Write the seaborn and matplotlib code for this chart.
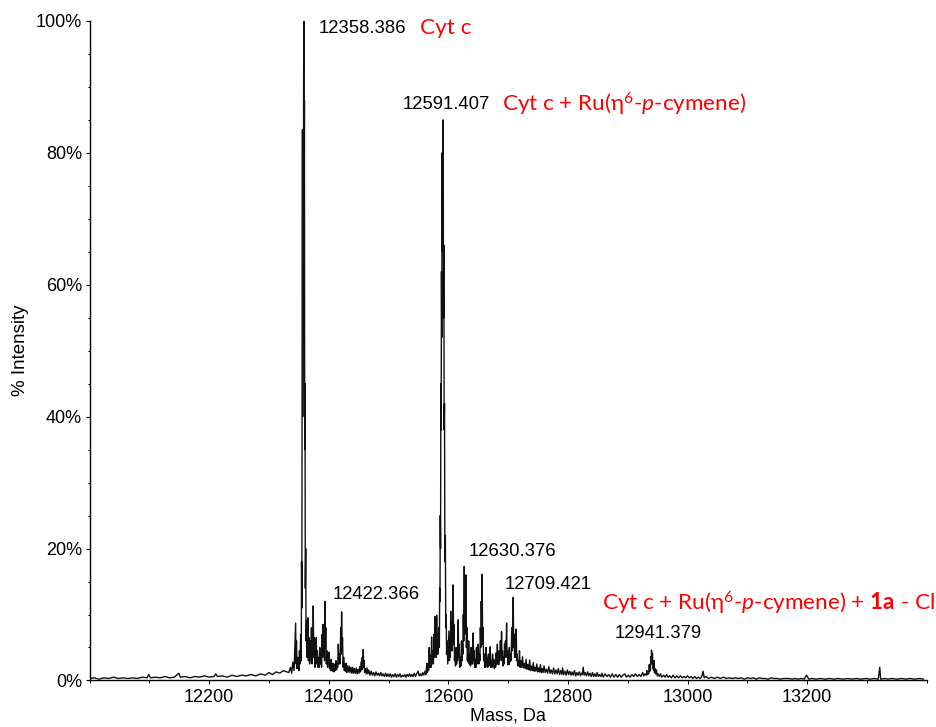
import matplotlib
matplotlib.use("Agg")
import matplotlib.pyplot as plt
import seaborn as sns
import pandas as pd
from matplotlib.ticker import MultipleLocator, FixedLocator, FixedFormatter

# ---------------- data (mass in Da, intensity in %) ----------------
baseline_left = [
    (12000, 0.3), (12008, 0.4), (12016, 0.2), (12024, 0.4), (12032, 0.3), (12040, 0.5),
    (12048, 0.3), (12056, 0.4), (12064, 0.3), (12072, 0.4), (12080, 0.3), (12088, 0.5),
    (12096, 0.4), (12099, 0.9), (12102, 0.4), (12110, 0.5), (12118, 0.4), (12126, 0.6),
    (12134, 0.4), (12142, 0.5), (12149, 1.1), (12152, 0.5), (12160, 0.6), (12168, 0.4),
    (12176, 0.6), (12184, 0.5), (12192, 0.7), (12200, 0.5), (12208, 0.6), (12211, 1.0),
    (12214, 0.6), (12222, 0.7), (12230, 0.5), (12238, 0.8), (12246, 0.6), (12254, 0.8),
    (12262, 0.7), (12270, 0.9), (12278, 0.7), (12286, 1.0), (12294, 0.8), (12300, 1.2),
    (12306, 0.9), (12312, 1.3), (12318, 1.1), (12324, 1.5), (12330, 1.3),
]

cyt_c_cluster = [
    (12333, 1.2), (12336, 2.0), (12338, 1.1), (12340, 2.8), (12342, 1.5), (12343.5, 5.5),
    (12344.6, 8.7), (12345.3, 2.5), (12346, 6.0), (12347, 1.8), (12348.5, 3.5), (12350, 1.5),
    (12351, 4.5), (12352, 2.5), (12353, 7.0), (12354, 3.0), (12354.5, 18.0), (12355, 11.0),
    (12355.5, 45.0), (12356, 83.5), (12356.5, 40.0), (12357, 70.0), (12357.5, 55.0),
    (12358, 92.0), (12358.4, 100.0), (12358.8, 60.0), (12359.3, 88.0), (12359.8, 35.0),
    (12360.3, 45.0), (12360.8, 14.0), (12361.5, 20.0), (12362, 6.0), (12363, 9.0),
    (12363.8, 3.5), (12365, 9.5), (12366, 3.0), (12367, 6.5), (12368, 2.5), (12369, 6.0),
    (12370, 3.0), (12371, 8.0), (12372, 2.5), (12372.8, 6.0), (12373.5, 4.0), (12374, 11.3),
    (12375, 3.5), (12375.8, 6.5), (12377, 2.0), (12378, 4.5), (12379, 6.5), (12380, 2.5),
    (12381, 4.5), (12382, 2.0), (12383, 3.5), (12384, 2.0), (12385, 5.0), (12386, 2.5),
    (12387, 4.0), (12388, 2.0), (12389, 7.0), (12389.8, 3.5), (12390.5, 8.5), (12391.3, 4.0),
    (12392, 6.5), (12393, 3.0), (12393.6, 12.0), (12394.3, 5.0), (12395, 8.0), (12396, 2.5),
    (12397, 4.5), (12398, 2.0), (12399, 3.0), (12400.5, 4.3), (12401.3, 1.8), (12402, 3.0),
    (12403, 1.5), (12404, 3.2), (12405, 1.5), (12406, 2.6), (12407, 1.4), (12408, 2.6),
    (12409, 1.3), (12410, 2.4), (12411, 1.5), (12412, 3.0), (12413, 1.6), (12414, 2.5),
    (12415, 2.0), (12416, 5.5), (12417, 2.5), (12418, 4.0), (12419, 2.5), (12420, 8.0),
    (12420.8, 4.0), (12421.5, 10.4), (12422.3, 4.5), (12423, 6.5), (12424, 2.0), (12425, 3.5),
    (12426, 1.5), (12427, 2.5), (12428, 1.4), (12429, 2.6), (12430, 1.2), (12431, 2.2),
    (12432.5, 1.3), (12434, 2.2), (12435.5, 1.2), (12437, 2.0), (12438.5, 1.1), (12440, 2.0),
    (12441.5, 1.1), (12443, 1.8), (12444.5, 1.1), (12446, 1.9), (12447.5, 1.0), (12449, 1.7),
    (12450.5, 1.1), (12452, 2.1), (12453, 1.3), (12454.5, 2.8), (12455.3, 1.6), (12456, 3.5),
    (12457, 2.0), (12457.7, 4.7), (12458.5, 2.0), (12459, 3.0), (12460, 1.2), (12461, 1.8),
    (12462.5, 1.0), (12464, 1.9), (12465.5, 1.0), (12467, 1.6),
]

baseline_mid = [
    (12469, 0.8), (12471, 1.4), (12473, 0.8), (12475, 1.2), (12477, 0.7), (12479, 1.3),
    (12481, 0.8), (12483, 1.1), (12485, 0.7), (12487, 1.2), (12489, 0.7), (12491, 1.0),
    (12493, 0.6), (12495, 1.1), (12497, 0.6), (12499, 1.0), (12501, 0.6), (12503, 1.0),
    (12505, 0.5), (12507, 0.9), (12509, 0.6), (12511, 1.0), (12513, 0.5), (12515, 0.9),
    (12517, 0.6), (12519, 1.0), (12521, 0.5), (12523, 0.8), (12525, 0.6), (12527, 0.9),
    (12529, 0.5), (12531, 0.9), (12533, 0.6), (12535, 1.0), (12537, 0.6), (12539, 0.9),
    (12541, 0.6), (12543, 1.1), (12545, 0.6), (12547, 1.0), (12549.6, 1.4), (12551, 0.7),
    (12553, 1.0), (12555, 0.7), (12557, 1.2), (12559, 0.8), (12561, 1.4), (12562.5, 0.9),
]

ru_cluster = [
    (12564, 2.6), (12565, 1.2), (12566, 2.5), (12567, 1.5), (12568, 5.0), (12569, 2.0),
    (12570, 3.8), (12571, 2.0), (12572, 6.6), (12573, 2.5), (12574, 4.5), (12575, 2.5),
    (12576, 7.0), (12576.8, 3.5), (12577.5, 9.7), (12578.3, 4.0), (12579, 6.5), (12579.8, 3.5),
    (12580.5, 9.9), (12581.3, 4.0), (12582, 7.0), (12583, 4.0), (12584, 8.0), (12585, 5.0),
    (12585.5, 14.0), (12586, 12.0), (12586.5, 25.0), (12587, 20.0), (12587.5, 45.0),
    (12588, 38.0), (12588.5, 62.0), (12589, 52.0), (12589.5, 80.0), (12590, 65.0),
    (12590.6, 78.0), (12591.4, 85.0), (12591.9, 55.0), (12592.5, 66.0), (12593, 38.0),
    (12593.6, 42.0), (12594.2, 18.0), (12595, 22.0), (12595.7, 8.0), (12596.5, 10.0),
    (12597, 4.0), (12598, 6.0), (12599, 2.5), (12600, 5.0), (12601, 7.5), (12601.8, 3.0),
    (12602.5, 5.0), (12603.3, 3.5), (12604, 10.5), (12604.8, 4.5), (12605.5, 7.0),
    (12606.3, 4.5), (12607, 9.0), (12607.5, 6.0), (12608, 14.5), (12608.8, 5.5),
    (12609.5, 8.5), (12610.3, 3.0), (12611, 4.5), (12612, 2.2), (12613, 5.0), (12613.8, 2.5),
    (12614.5, 4.5), (12615.5, 3.0), (12616.5, 9.2), (12617.3, 3.5), (12618, 5.5), (12619, 2.0),
    (12620, 3.5), (12621, 2.2), (12622, 6.0), (12622.8, 3.0), (12623.5, 5.5), (12624.3, 4.0),
    (12625, 10.0), (12625.8, 6.0), (12626.6, 17.3), (12627.3, 7.0), (12628, 11.0),
    (12628.7, 8.0), (12629.4, 16.0), (12630.2, 5.0), (12631, 8.0), (12631.8, 3.0),
    (12632.5, 4.5), (12633.3, 2.8), (12634, 6.0), (12635, 2.5), (12636, 4.0), (12637, 2.2),
    (12638, 5.0), (12638.8, 2.5), (12639.5, 3.5), (12640.5, 2.5), (12641.5, 7.2),
    (12642.3, 3.0), (12643, 4.5), (12644, 2.0), (12645, 3.2), (12646, 2.0), (12647, 5.0),
    (12647.8, 2.5), (12648.5, 4.0), (12649.3, 2.6), (12650, 5.5), (12651, 2.5), (12652, 4.0),
    (12652.8, 3.0), (12653.5, 8.0), (12654.3, 5.0), (12655, 12.0), (12655.8, 7.0),
    (12656.6, 16.1), (12657.3, 5.5), (12658, 8.0), (12659, 3.0), (12660, 4.0), (12660.8, 2.0),
    (12661.5, 3.0), (12662.3, 2.0), (12663, 5.0), (12664, 2.2), (12665, 3.5), (12666, 2.0),
    (12667, 4.0), (12667.8, 2.2), (12668.5, 3.2), (12669.3, 2.5), (12670, 5.1), (12671, 2.0),
    (12672, 3.0), (12673, 2.0), (12674, 4.0), (12675, 2.2), (12676, 3.2), (12677, 1.8),
    (12678, 2.8), (12679, 2.0), (12680, 4.2), (12681, 2.4), (12682, 5.5), (12682.8, 2.6),
    (12683.5, 3.5), (12684.3, 2.4), (12685, 4.5), (12686, 3.0), (12687, 6.0), (12688, 3.5),
    (12689, 7.4), (12689.8, 3.0), (12690.5, 4.5), (12691.3, 2.2), (12692, 3.5), (12693, 2.5),
    (12694, 5.5), (12694.8, 3.5), (12695.5, 6.0), (12696.5, 4.0), (12697.4, 8.7),
    (12698.2, 3.5), (12699, 4.5), (12699.8, 2.4), (12700.5, 3.2), (12701.3, 2.4), (12702, 5.0),
    (12703, 2.8), (12704, 4.0), (12705, 3.0), (12706, 8.0), (12707, 4.5), (12707.8, 9.0),
    (12708.5, 12.6), (12709.3, 5.0), (12710, 7.0), (12710.8, 3.5), (12711.5, 4.5),
    (12712.5, 3.5), (12713.5, 7.8), (12714.3, 3.0), (12715, 4.0), (12716, 2.2), (12717, 3.0),
    (12718, 2.2), (12719, 4.5), (12720, 2.0), (12721, 3.0),
]

tail_right = [
    (12722.5, 2.0), (12724, 3.6), (12725.5, 1.9), (12727, 2.6), (12728.5, 1.8), (12730, 3.2),
    (12731.5, 1.7), (12733, 2.4), (12734.5, 1.6), (12736, 3.1), (12737.5, 1.5), (12739, 2.2),
    (12740.5, 1.5), (12742, 2.7), (12743.5, 1.4), (12745, 2.0), (12746.5, 1.4), (12748, 2.5),
    (12749.5, 1.3), (12751, 1.9), (12752.5, 1.3), (12754, 2.4), (12755.5, 1.2), (12757, 1.8),
    (12758.5, 1.2), (12760, 2.2), (12762, 1.2), (12764, 1.7), (12766, 1.1), (12768, 2.1),
    (12770, 1.1), (12772, 1.6), (12774, 1.0), (12776, 1.9), (12778, 1.0), (12780, 1.6),
    (12782, 1.0), (12784, 1.8), (12786, 0.9), (12788, 1.5), (12790, 0.9), (12791, 1.9),
    (12793, 0.9), (12795, 1.4), (12797, 0.8), (12799, 1.6), (12801, 0.9), (12803, 1.4),
    (12805, 0.8), (12807, 1.3), (12809, 0.8), (12811, 1.5), (12813, 0.7), (12815, 1.2),
    (12817, 0.8), (12819, 1.3), (12821, 0.7), (12822.5, 1.1), (12824, 0.9), (12825.5, 2.0),
    (12827, 0.8), (12829, 1.2), (12831, 0.7), (12833, 1.3), (12835, 0.7), (12837, 1.1),
    (12839, 0.6), (12841, 1.2), (12843, 0.6), (12845, 1.0), (12847, 0.6), (12849, 1.2),
    (12851, 0.6), (12853, 0.9), (12855, 0.6), (12857, 1.1), (12859, 0.5), (12862, 1.0),
    (12865, 0.6), (12868, 0.9), (12871, 0.5), (12874, 1.0), (12877, 0.5), (12880, 0.9),
    (12883, 0.5), (12886, 0.9), (12889, 0.5), (12892, 0.8), (12895, 1.0), (12898, 0.5),
    (12901, 0.8), (12904, 0.5), (12907, 0.9), (12910, 0.6), (12913, 1.0), (12916, 0.6),
    (12919, 0.9), (12922, 0.6), (12925, 1.2), (12927, 0.7), (12929, 1.0), (12931, 0.8),
    (12932, 1.5), (12933, 0.9), (12934, 1.3), (12935, 1.0), (12936, 2.4), (12937, 1.4),
    (12937.5, 2.0), (12938, 1.6), (12938.5, 3.6), (12939.2, 2.5), (12939.8, 4.6),
    (12940.6, 3.0), (12941.4, 4.1), (12942, 1.8), (12942.5, 2.6), (12943.3, 1.5), (12944, 3.0),
    (12944.8, 1.2), (12945.5, 1.8), (12946.5, 1.0), (12948, 1.6), (12949.5, 0.7),
    (12951, 1.0), (12953, 0.6), (12955, 1.0), (12957, 0.5), (12960, 0.8), (12962.5, 0.5),
    (12965, 0.9), (12967.5, 0.5), (12970, 0.7), (12973, 0.4), (12976, 0.8), (12979, 0.4),
    (12982, 0.7), (12985, 0.4), (12988, 0.7), (12991, 0.4), (12994, 0.6), (12997, 0.4),
    (13000, 0.7), (13003, 0.4), (13006, 0.6), (13009, 0.3), (13012, 0.6), (13015, 0.3),
    (13018, 0.5), (13021, 0.3), (13024, 0.6), (13026, 1.4), (13028, 0.4), (13031, 0.6),
    (13035, 0.3), (13040, 0.5), (13045, 0.3), (13050, 0.5), (13055, 0.3), (13060, 0.5),
    (13065, 0.3), (13070, 0.4), (13075, 0.3), (13080, 0.4), (13085, 0.3), (13090, 0.4),
    (13095, 0.2), (13100, 0.4), (13105, 0.3), (13110, 0.4), (13115, 0.2), (13120, 0.4),
    (13125, 0.3), (13130, 0.3), (13135, 0.2), (13140, 0.4), (13145, 0.3), (13150, 0.3),
    (13155, 0.2), (13160, 0.3), (13165, 0.3), (13170, 0.3), (13175, 0.2), (13180, 0.3),
    (13185, 0.2), (13190, 0.3), (13195, 0.2), (13199, 0.8), (13203, 0.2), (13208, 0.3),
    (13215, 0.2), (13222, 0.3), (13230, 0.2), (13238, 0.3), (13245, 0.2), (13252, 0.3),
    (13260, 0.2), (13268, 0.3), (13275, 0.2), (13282, 0.3), (13290, 0.2), (13298, 0.3),
    (13305, 0.2), (13312, 0.3), (13319, 0.2), (13321.5, 2.0), (13323, 0.2), (13330, 0.3),
    (13335, 0.2), (13342, 0.3), (13350, 0.2), (13358, 0.3), (13365, 0.2), (13372, 0.3),
    (13380, 0.2), (13388, 0.3), (13395, 0.2),
]

x_ticks = [12200, 12400, 12600, 12800, 13000, 13200]
x_tick_labels = ["12200", "12400", "12600", "12800", "13000", "13200"]
y_ticks = [0, 20, 40, 60, 80, 100]
y_tick_labels = ["0%", "20%", "40%", "60%", "80%", "100%"]

# peak labels: (text, anchor mass, anchor intensity)
mass_labels = [
    ("12358.386", 12383.6, 98.9),
    ("12591.407", 12524.0, 87.3),
    ("12422.366", 12407.0, 13.0),
    ("12630.376", 12634.4, 19.5),
    ("12709.421", 12694.6, 14.6),
    ("12941.379", 12878.6, 7.05),
]
species_labels = [
    ("Cyt c", 12552.5, 98.9),
    (r"Cyt c + Ru(η$^{\mathregular{6}}$-$\mathit{p}$-cymene)", 12689.6, 87.3),
    (r"Cyt c + Ru(η$^{\mathregular{6}}$-$\mathit{p}$-cymene) + $\mathbf{1a}$ - Cl", 12857.0, 11.75),
]

# ---------------- build table ----------------
segments = baseline_left + cyt_c_cluster + baseline_mid + ru_cluster + tail_right
df = pd.DataFrame(segments, columns=["mass", "intensity"])

# ---------------- style ----------------
sns.set_theme(style="ticks")
plt.rcParams["font.family"] = ["Liberation Sans", "DejaVu Sans"]
plt.rcParams["mathtext.fontset"] = "custom"
plt.rcParams["mathtext.rm"] = "Lato"
plt.rcParams["mathtext.it"] = "Lato:italic"
plt.rcParams["mathtext.bf"] = "Lato:bold"

fig = plt.figure(figsize=(9.37, 7.27), dpi=100)
ax = fig.add_axes([0.0956, 0.0640, 0.8934, 0.9072])

sns.lineplot(data=df, x="mass", y="intensity", estimator=None, sort=False,
             color="#111111", linewidth=1.0, ax=ax)

ax.set_xlim(12000, 13400)
ax.set_ylim(0, 100)

ax.xaxis.set_major_locator(FixedLocator(x_ticks))
ax.xaxis.set_major_formatter(FixedFormatter(x_tick_labels))
ax.xaxis.set_minor_locator(MultipleLocator(100))
ax.yaxis.set_major_locator(FixedLocator(y_ticks))
ax.yaxis.set_major_formatter(FixedFormatter(y_tick_labels))
ax.yaxis.set_minor_locator(MultipleLocator(5))

ax.tick_params(axis="both", which="major", length=3.0, width=0.8, color="black",
               labelsize=13, labelcolor="black", direction="out")
ax.tick_params(axis="both", which="minor", length=1.8, width=0.7, color="black", direction="out")
ax.tick_params(axis="y", which="major", pad=2.5)
ax.tick_params(axis="x", which="major", pad=3.0)

for s in ["top", "right"]:
    ax.spines[s].set_visible(False)
for s in ["left", "bottom"]:
    ax.spines[s].set_color("black")
    ax.spines[s].set_linewidth(1.0)

ax.set_xlabel("Mass, Da", fontsize=13, color="black", labelpad=1.0)
ax.set_ylabel("% Intensity", fontsize=13.5, color="black", labelpad=5)

for txt, mx, my in mass_labels:
    ax.text(mx, my, txt, fontsize=13.3, color="black", ha="left", va="center")
for txt, mx, my in species_labels:
    ax.text(mx, my, txt, fontsize=16.2, color="#ff0000", ha="left", va="center",
            family=["Lato", "DejaVu Sans"])

ax.set_facecolor("white")
fig.patch.set_facecolor("white")
fig.savefig("out.png", dpi=100)
